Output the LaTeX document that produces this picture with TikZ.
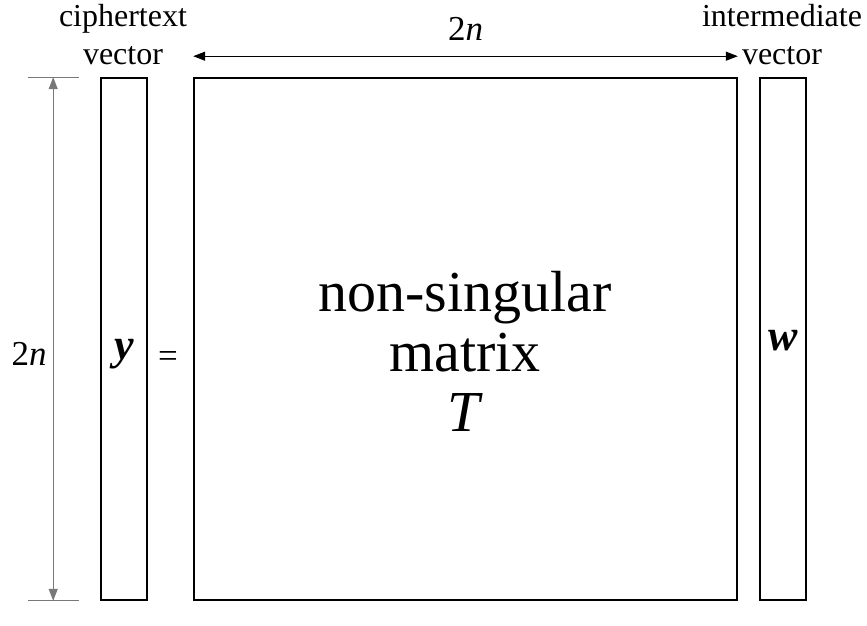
\documentclass[tikz,border=0pt]{standalone}
\usepackage{fontspec}
\setmainfont{Liberation Serif}
\usetikzlibrary{arrows.meta,positioning}
\definecolor{dimGray}{RGB}{120,120,120}
\tikzset{
  vecbox/.style={draw, line width=1.6pt, minimum width=46pt, minimum height=522pt, inner sep=0pt},
  matbox/.style={draw, line width=1.6pt, minimum width=543pt, minimum height=522pt, inner sep=0pt},
  bigtext/.style={align=center, inner sep=0pt, font=\fontsize{58}{60}\selectfont},
  lbl/.style={align=center, inner sep=0pt, font=\fontsize{32}{38}\selectfont},
  dimtext/.style={inner sep=0pt, font=\fontsize{35}{38}\selectfont},
  sym/.style={inner sep=0pt, anchor=base, font=\fontsize{44}{44}\selectfont\bfseries\itshape},
  dimline/.style={draw=dimGray, line width=1pt},
  arrow/.style={{Triangle[length=12pt,width=9pt]}-{Triangle[length=12pt,width=9pt]}, line width=1pt}
}

\begin{document}
\begin{tikzpicture}[x=1pt,y=-1pt]
  \useasboundingbox (0,0) rectangle (867,625);

  \node[vecbox] (yvec) at (124,339) {};
  \node[matbox] (mat) at (465.5,339) {};
  \node[vecbox] (wvec) at (783,339) {};

  \node[bigtext] (mtxt) at (465,351) {non-singular\\matrix\\\textit{T}};
  \node[sym] (ysym) at (124,359) {y};
  \node[sym] (wsym) at (783,350) {w};
  \node[dimtext, anchor=base] (eq) at (168,367) {=};

  \node[lbl] (ylbl) at (123,34.5) {ciphertext\\vector};
  \node[lbl] (wlbl) at (782,34.5) {intermediate\\vector};

  % width of T
  \draw[arrow] ([yshift=21pt]mat.north west) -- ([yshift=21pt]mat.north east)
    node[dimtext, midway, above=15pt] (wdim) {2\textit{n}};

  % height of T
  \draw[dimline] ([xshift=-72pt]yvec.north west) -- ([xshift=-21pt]yvec.north west);
  \draw[dimline] ([xshift=-72pt]yvec.south west) -- ([xshift=-21pt]yvec.south west);
  \draw[dimline, arrow] ([xshift=-47pt]yvec.north west) -- ([xshift=-47pt]yvec.south west)
    node[dimtext, midway, left=6pt, yshift=-15pt] (hdim) {2\textit{n}};
\end{tikzpicture}
\end{document}
